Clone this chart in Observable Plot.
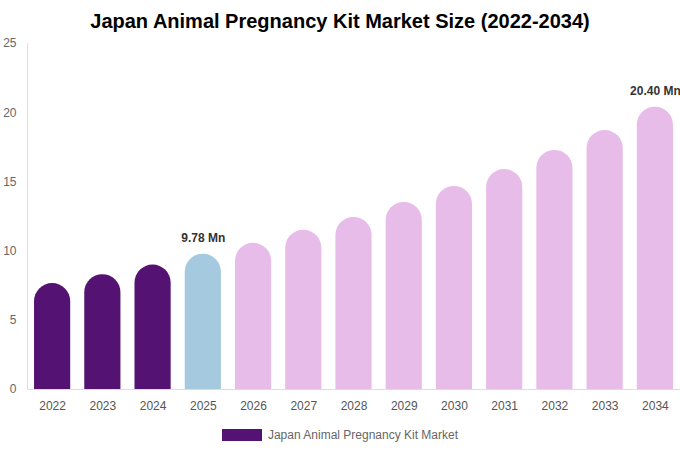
<!DOCTYPE html>
<html>
<head>
<meta charset="utf-8">
<script src="https://cdn.jsdelivr.net/npm/d3@7"></script>
<script src="https://cdn.jsdelivr.net/npm/@observablehq/plot@0.6"></script>
<style>
  html, body { margin: 0; padding: 0; background: #fff; }
  body { width: 680px; height: 450px; font-family: "Liberation Sans", Arial, sans-serif; overflow: hidden; }
  #title { height: 30px; line-height: 42px; text-align: center; font-weight: bold; font-size: 20px; color: #000; white-space: nowrap; }
  #chart { height: 390px; }
  #legend { height: 30px; display: flex; justify-content: center; align-items: center; font-size: 12px; color: #666; }
  #legend .sw { width: 40px; height: 12px; background: #541273; margin-right: 6px; margin-left: 0px; }
</style>
</head>
<body>
<div id="title">Japan Animal Pregnancy Kit Market Size (2022-2034)</div>
<div id="chart"></div>
<div id="legend"><span class="sw"></span><span>Japan Animal Pregnancy Kit Market</span></div>
<script>
const years = ["2022","2023","2024","2025","2026","2027","2028","2029","2030","2031","2032","2033","2034"];
const values = [7.65, 8.30, 8.99, 9.78, 10.56, 11.50, 12.43, 13.52, 14.67, 15.89, 17.27, 18.71, 20.40];
const periods = ["hist","hist","hist","base","fcst","fcst","fcst","fcst","fcst","fcst","fcst","fcst","fcst"];
const labeledYears = ["2025", "2034"];
const yTicks = [0, 5, 10, 15, 20, 25];

const data = years.map((year, i) => ({year, value: values[i], period: periods[i]}));
const labeled = data.filter(d => labeledYears.includes(d.year));

const chart = Plot.plot({
  width: 680,
  height: 390,
  marginTop: 13,
  marginBottom: 31,
  marginLeft: 27,
  marginRight: 0,
  style: {fontFamily: "Liberation Sans, Arial, sans-serif", fontSize: "12px", overflow: "visible"},
  x: {type: "band", domain: years, paddingInner: 0.28, paddingOuter: 0.14, round: false, label: null},
  y: {domain: [0, 25], label: null},
  color: {domain: ["hist", "base", "fcst"], range: ["#541273", "#a5cadf", "#e8bce9"]},
  marks: [
    Plot.barY(data, {x: "year", y: "value", fill: "period", rx: 18, ry: 18, insetBottom: -24, clip: true}),
    Plot.ruleY([0], {stroke: "#ddd"}),
    Plot.frame({anchor: "left", stroke: "#ddd"}),
    Plot.axisY({ticks: yTicks, tickSize: 0, tickPadding: 11, fill: "#666", fontSize: 12, label: null}),
    Plot.axisX({tickSize: 0, tickPadding: 12, fill: "#555", fontSize: 12, label: null}),
    Plot.text(labeled, {x: "year", y: "value", text: d => d.value.toFixed(2) + " Mn", dy: -16, fontWeight: "bold", fontSize: 12, fill: "#333"})
  ]
});
document.getElementById("chart").appendChild(chart);
</script>
</body>
</html>
